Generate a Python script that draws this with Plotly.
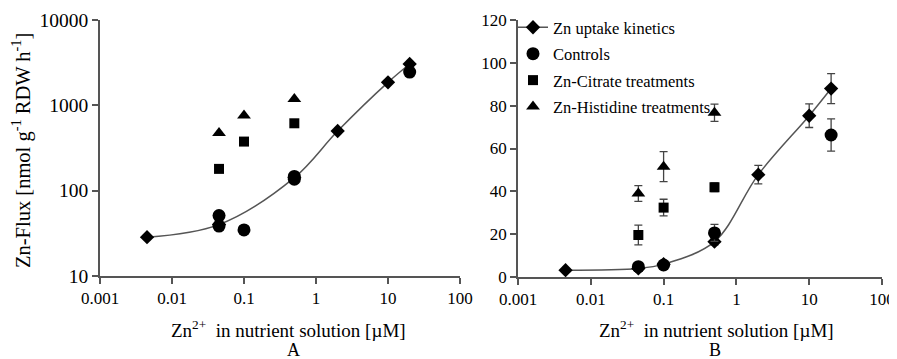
import plotly.graph_objects as go

# ---- data (panel A, log-log) ----
kin_x_A = [0.0045, 0.045, 0.5, 2, 10, 20]
kin_y_A = [28.5, 40, 142, 500, 1860, 3050]
ctrl_x_A = [0.045, 0.045, 0.1, 0.5, 0.5, 20]
ctrl_y_A = [51, 38.5, 34.7, 147, 136, 2450]
cit_x_A = [0.045, 0.1, 0.5]
cit_y_A = [180, 376, 616]
his_x_A = [0.045, 0.1, 0.5]
his_y_A = [475, 760, 1190]

# ---- data (panel B, log-linear) ----
kin_x_B = [0.0045, 0.045, 0.1, 0.5, 2, 10, 20]
kin_y_B = [3.2, 4.0, 6.0, 16.5, 47.8, 75.3, 88.0]
kin_e_B = [0.5, 0.5, 0.5, 1.5, 4.3, 5.5, 7.0]
ctrl_x_B = [0.045, 0.1, 0.5, 20]
ctrl_y_B = [4.8, 5.6, 20.6, 66.3]
ctrl_e_B = [1.0, 1.0, 4.0, 7.5]
cit_x_B = [0.045, 0.1, 0.5]
cit_y_B = [19.6, 32.4, 41.9]
cit_e_B = [4.6, 3.9, 2.0]
his_x_B = [0.045, 0.1, 0.5]
his_y_B = [39.0, 51.5, 76.7]
his_e_B = [3.7, 7.0, 4.0]

x_ticks = [0.001, 0.01, 0.1, 1, 10, 100]
x_tick_text = ["0.001", "0.01", "0.1", "1", "10", "100"]
yA_ticks = [10, 100, 1000, 10000]
yB_ticks = [0, 20, 40, 60, 80, 100, 120]

names = ["Zn uptake kinetics", "Controls", "Zn-Citrate treatments", "Zn-Histidine treatments"]

# page has an 8px body margin; size the figure so it fills the 897x359 window
OFF = 8
W, H = 897 - OFF, 359 - OFF
FONT = "Liberation Serif"
AX = "#555555"
LINE = "#555555"

fig = go.Figure()

def px_x(p):
    return (p - OFF) / W

def px_y(p):
    return 1 - (p - OFF) / H

# panel A
fig.add_trace(go.Scatter(x=kin_x_A, y=kin_y_A, mode="lines+markers", line=dict(color=LINE, width=1.5, shape="spline"),
                         marker=dict(symbol="diamond", size=11, color="black"), showlegend=False, xaxis="x", yaxis="y"))
fig.add_trace(go.Scatter(x=ctrl_x_A, y=ctrl_y_A, mode="markers", marker=dict(symbol="circle", size=13, color="black"),
                         showlegend=False, xaxis="x", yaxis="y"))
fig.add_trace(go.Scatter(x=cit_x_A, y=cit_y_A, mode="markers", marker=dict(symbol="square", size=10, color="black"),
                         showlegend=False, xaxis="x", yaxis="y"))
fig.add_trace(go.Scatter(x=his_x_A, y=his_y_A, mode="markers", marker=dict(symbol="triangle-up", size=12, color="black"),
                         showlegend=False, xaxis="x", yaxis="y"))

# panel B
err = lambda e: dict(type="data", array=e, visible=True, color="#444444", thickness=1.3, width=4)
fig.add_trace(go.Scatter(x=kin_x_B, y=kin_y_B, error_y=err(kin_e_B), mode="lines+markers", name=names[0],
                         line=dict(color=LINE, width=1.5, shape="spline", smoothing=1.0),
                         marker=dict(symbol="diamond", size=11, color="black"), legendgroup="a", xaxis="x2", yaxis="y2"))
fig.add_trace(go.Scatter(x=ctrl_x_B, y=ctrl_y_B, error_y=err(ctrl_e_B), mode="markers", name=names[1],
                         marker=dict(symbol="circle", size=13, color="black"), legendgroup="b", xaxis="x2", yaxis="y2"))
fig.add_trace(go.Scatter(x=cit_x_B, y=cit_y_B, error_y=err(cit_e_B), mode="markers", name=names[2],
                         marker=dict(symbol="square", size=10, color="black"), legendgroup="c", xaxis="x2", yaxis="y2"))
fig.add_trace(go.Scatter(x=his_x_B, y=his_y_B, error_y=err(his_e_B), mode="markers", name=names[3],
                         marker=dict(symbol="triangle-up", size=12, color="black"), legendgroup="d", xaxis="x2", yaxis="y2"))

axis_common = dict(showline=True, linecolor=AX, linewidth=1.5, ticks="outside", ticklen=6, tickcolor=AX, tickwidth=1.5,
                   showgrid=False, zeroline=False, automargin=False)
tf = dict(family=FONT, size=17, color="black")
tf_big = dict(family=FONT, size=19.5, color="black")

fig.update_layout(
    width=W, height=H, margin=dict(l=0, r=0, t=0, b=0),
    paper_bgcolor="white", plot_bgcolor="white",
    font=dict(family=FONT, color="black"),
    xaxis=dict(type="log", range=[-3, 2], domain=[px_x(100), px_x(460)], anchor="y",
               tickvals=x_ticks, ticktext=x_tick_text, tickfont=tf, **axis_common),
    yaxis=dict(type="log", range=[1, 4], domain=[px_y(276), px_y(20)], anchor="x",
               tickvals=yA_ticks, ticktext=[str(v) for v in yA_ticks], tickfont=tf_big, **axis_common),
    xaxis2=dict(type="log", range=[-3, 2], domain=[px_x(518), px_x(882)], anchor="y2",
                tickvals=x_ticks, ticktext=x_tick_text, tickfont=tf, **axis_common),
    yaxis2=dict(range=[0, 120], domain=[px_y(277), px_y(20)], anchor="x2",
                tickvals=yB_ticks, tickfont=tf, **axis_common),
    legend=dict(x=px_x(513), y=px_y(10), xanchor="left", yanchor="top", bgcolor="rgba(0,0,0,0)",
                font=dict(family=FONT, size=16.5, color="black"), tracegroupgap=2, itemwidth=30),
)

ann = [
    dict(text="Zn-Flux [nmol g<sup>-1</sup> RDW h<sup>-1</sup>]", x=px_x(21), y=px_y(151), textangle=-90, font_size=20.5),
    dict(text="Zn<sup>2+</sup>  in nutrient solution [µM]", x=px_x(288), y=px_y(329), font_size=19),
    dict(text="A", x=px_x(293), y=px_y(350), font_size=18),
    dict(text="Zn<sup>2+</sup>  in nutrient solution [µM]", x=px_x(716), y=px_y(329), font_size=19),
    dict(text="B", x=px_x(715), y=px_y(350), font_size=18),
]
for a in ann:
    fig.add_annotation(xref="paper", yref="paper", showarrow=False, xanchor="center", yanchor="middle",
                       text=a["text"], x=a["x"], y=a["y"], textangle=a.get("textangle", 0),
                       font=dict(family=FONT, size=a["font_size"], color="black"))

fig.write_html("out.html")
